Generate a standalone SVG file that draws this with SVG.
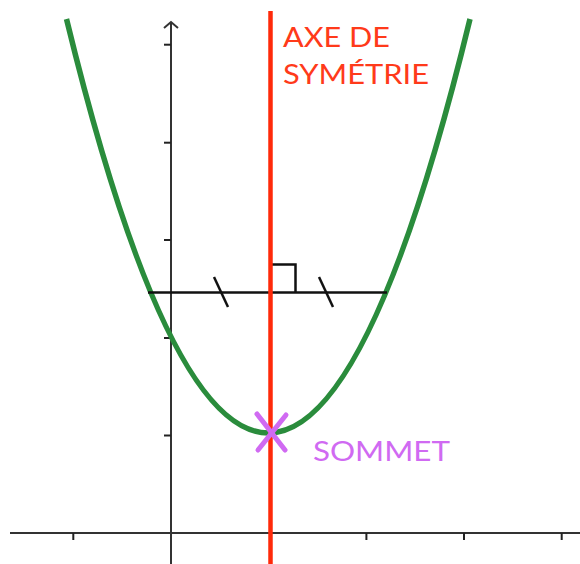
<svg xmlns="http://www.w3.org/2000/svg" width="580" height="564" viewBox="0 0 580 564">
<style>
.ax{stroke:#333;stroke-width:2;fill:none}
.tk{stroke:#222;stroke-width:2}
.blk{stroke:#111;stroke-width:2.5;fill:none}
.lbl{font-family:Lato,"Open Sans","Liberation Sans",sans-serif;font-size:27px}
</style>
<rect width="580" height="564" fill="#fff"/>
<g id="axes">
<line class="ax" x1="10" y1="533" x2="580" y2="533"/>
<line class="ax" x1="171" y1="564" x2="171" y2="22"/>
<polyline class="ax" points="164,28 171,22 178,28"/>
<g class="tk">
<line x1="73.3" y1="533" x2="73.3" y2="540"/>
<line x1="366.4" y1="533" x2="366.4" y2="540"/>
<line x1="464" y1="533" x2="464" y2="540"/>
<line x1="561.7" y1="533" x2="561.7" y2="540"/>
<line x1="164" y1="44.7" x2="171" y2="44.7"/>
<line x1="164" y1="142.7" x2="171" y2="142.7"/>
<line x1="164" y1="240" x2="171" y2="240"/>
<line x1="164" y1="338" x2="171" y2="338"/>
<line x1="164" y1="435.5" x2="171" y2="435.5"/>
</g>
</g>
<g id="parabola">
<path d="M66.5,19 Q268.5,847 470,19" fill="none" stroke="#2a8c3c" stroke-width="5.5"/>
</g>
<g id="connectors">
<line class="blk" x1="148" y1="292.5" x2="387" y2="292.5"/>
<polyline class="blk" points="270.5,264.5 295.5,264.5 295.5,292.5"/>
<line class="blk" x1="214" y1="277" x2="228" y2="307"/>
<line class="blk" x1="319" y1="277" x2="333" y2="307"/>
</g>
<g id="axis-of-symmetry">
<line x1="270.5" y1="11" x2="270.5" y2="564" stroke="#ff2a0a" stroke-width="4.5"/>
<text class="lbl" x="283" y="47.3" fill="#ff3a1a" textLength="107" lengthAdjust="spacingAndGlyphs">AXE DE</text>
<text class="lbl" x="283" y="84" fill="#ff3a1a" textLength="146" lengthAdjust="spacingAndGlyphs">SYMÉTRIE</text>
</g>
<g id="vertex">
<g stroke="#d06af2" stroke-width="5" stroke-linecap="round">
<line x1="257" y1="414" x2="285" y2="450"/>
<line x1="286" y1="415" x2="258" y2="450"/>
</g>
<text class="lbl" x="313" y="461" fill="#d06af2" textLength="137" lengthAdjust="spacingAndGlyphs">SOMMET</text>
</g>
</svg>
